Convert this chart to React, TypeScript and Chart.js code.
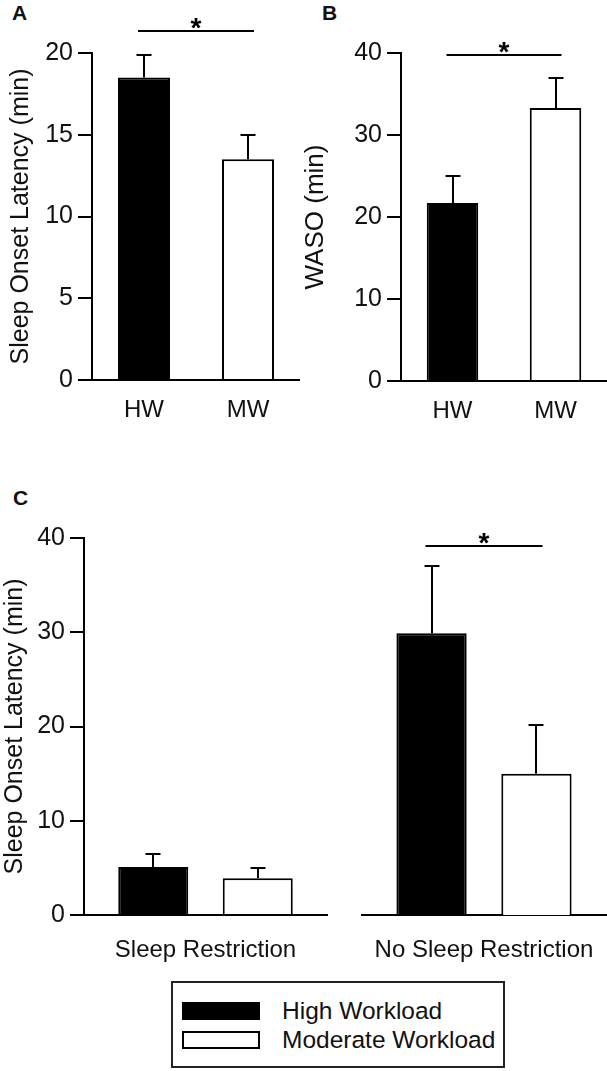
import React, { useEffect, useRef } from 'react';
import { Chart, registerables } from 'chart.js';

Chart.register(...registerables);

const FONT = '"Liberation Sans", Arial, Helvetica, sans-serif';
const INK = '#111';

// ---- Data ----
const workloadLabels = ['HW', 'MW'];
const latencyMeans = [18.5, 13.5];
const latencyErrors = [1.4, 1.5];
const latencyTicks = [0, 5, 10, 15, 20];
const wasoMeans = [21.7, 33.3];
const wasoErrors = [3.3, 3.6];
const wasoTicks = [0, 10, 20, 30, 40];
const restrictionCategories = ['Sleep Restriction', 'No Sleep Restriction'];
const highWorkloadMeans = [5.1, 29.9];
const highWorkloadErrors = [1.4, 7.1];
const moderateWorkloadMeans = [3.9, 15.0];
const moderateWorkloadErrors = [1.1, 5.2];
const restrictionTicks = [0, 10, 20, 30, 40];
const legendLabels = ['High Workload', 'Moderate Workload'];
const barColors = ['#000000', '#ffffff'];
// significance bracket heights (in axis units)
const sigLevels = { A: 21.35, B: 39.8, C: 39.2 };

// ---- Plugins ----
const errorBarPlugin = {
  id: 'errorBars',
  afterDatasetsDraw(chart: any) {
    const ctx = chart.ctx;
    const y = chart.scales.y;
    chart.data.datasets.forEach((ds: any, di: number) => {
      const errs: number[] | undefined = ds.errors;
      if (!errs) return;
      const meta = chart.getDatasetMeta(di);
      meta.data.forEach((el: any, i: number) => {
        const v = ds.data[i] as number;
        const top = Math.round(y.getPixelForValue(v + errs[i]));
        const x = Math.round(el.x);
        ctx.save();
        ctx.strokeStyle = '#000';
        ctx.lineWidth = 2;
        ctx.beginPath();
        ctx.moveTo(x, el.y);
        ctx.lineTo(x, top);
        ctx.moveTo(x - 7.5, top);
        ctx.lineTo(x + 7.5, top);
        ctx.stroke();
        ctx.restore();
      });
    });
  },
};

const sigPlugin = {
  id: 'sigBracket',
  afterDatasetsDraw(chart: any, _args: any, opts: any) {
    if (!opts || opts.level == null) return;
    const ctx = chart.ctx;
    const y = Math.round(chart.scales.y.getPixelForValue(opts.level));
    const a = chart.getDatasetMeta(opts.from[0]).data[opts.from[1]];
    const b = chart.getDatasetMeta(opts.to[0]).data[opts.to[1]];
    const x1 = a.x - 6;
    const x2 = b.x + 6;
    ctx.save();
    ctx.strokeStyle = '#000';
    ctx.lineWidth = 2;
    ctx.beginPath();
    ctx.moveTo(x1, y);
    ctx.lineTo(x2, y);
    ctx.stroke();
    ctx.fillStyle = '#000';
    ctx.font = `bold 28px ${FONT}`;
    ctx.textAlign = 'center';
    ctx.textBaseline = 'alphabetic';
    ctx.fillText('*', (x1 + x2) / 2, y + 6);
    ctx.restore();
  },
};

// ---- Config builders ----
function yScale(opts: {
  max: number;
  ticks: number[];
  title?: string;
  titleSize: number;
  titlePad: number;
  width: number;
  display?: boolean;
}) {
  return {
    display: opts.display !== false,
    min: 0,
    max: opts.max,
    afterBuildTicks: (s: any) => {
      s.ticks = opts.ticks.map((v) => ({ value: v }));
    },
    afterFit: (s: any) => {
      s.width = opts.display === false ? 0 : opts.width;
      s.paddingTop = 0;
      s.paddingBottom = 0;
    },
    border: { display: true, color: '#000', width: 2 },
    grid: {
      display: true,
      drawOnChartArea: false,
      drawTicks: true,
      tickLength: 14,
      color: '#000',
      lineWidth: 2,
    },
    ticks: {
      color: INK,
      padding: 5,
      font: { family: FONT, size: 25 },
    },
    title: {
      display: !!opts.title,
      text: opts.title || '',
      color: INK,
      font: { family: FONT, size: opts.titleSize },
      padding: { top: opts.titlePad, bottom: 0 },
    },
  };
}

function xScale(height: number, pad: number) {
  return {
    afterFit: (s: any) => {
      s.height = height;
      s.paddingLeft = 0;
      s.paddingRight = 0;
    },
    border: { display: true, color: '#000', width: 2 },
    grid: { display: false },
    ticks: {
      color: INK,
      padding: pad,
      maxRotation: 0,
      minRotation: 0,
      autoSkip: false,
      font: { family: FONT, size: 24 },
    },
  };
}

function workloadPanel(p: {
  means: number[];
  errors: number[];
  max: number;
  ticks: number[];
  title: string;
  titleSize: number;
  titlePad: number;
  yWidth: number;
  xHeight: number;
  padTop: number;
  sig: number;
}) {
  return {
    type: 'bar',
    data: {
      labels: workloadLabels,
      datasets: [
        {
          data: p.means,
          errors: p.errors,
          backgroundColor: barColors,
          borderColor: '#000',
          borderWidth: 2,
          categoryPercentage: 1,
          barPercentage: 0.5,
        },
      ],
    },
    options: {
      responsive: false,
      animation: false,
      events: [],
      layout: { padding: { top: p.padTop, left: 0, right: 0, bottom: 0 } },
      plugins: {
        legend: { display: false },
        tooltip: { enabled: false },
        sigBracket: { level: p.sig, from: [0, 0], to: [0, 1] },
      },
      scales: {
        x: xScale(p.xHeight, 8),
        y: yScale({
          max: p.max,
          ticks: p.ticks,
          title: p.title,
          titleSize: p.titleSize,
          titlePad: p.titlePad,
          width: p.yWidth,
        }),
      },
    },
    plugins: [errorBarPlugin, sigPlugin],
  };
}

function restrictionPanel(idx: number, left: boolean) {
  return {
    type: 'bar',
    data: {
      labels: [restrictionCategories[idx]],
      datasets: [
        {
          label: legendLabels[0],
          data: [highWorkloadMeans[idx]],
          errors: [highWorkloadErrors[idx]],
          backgroundColor: barColors[0],
          borderColor: '#000',
          borderWidth: 2,
          categoryPercentage: 0.86,
          barPercentage: 0.67,
        },
        {
          label: legendLabels[1],
          data: [moderateWorkloadMeans[idx]],
          errors: [moderateWorkloadErrors[idx]],
          backgroundColor: barColors[1],
          borderColor: '#000',
          borderWidth: 2,
          categoryPercentage: 0.86,
          barPercentage: 0.67,
        },
      ],
    },
    options: {
      responsive: false,
      animation: false,
      events: [],
      layout: { padding: { top: 58, left: left ? 0 : 22, right: left ? 3 : 1, bottom: 0 } },
      plugins: {
        legend: { display: false },
        tooltip: { enabled: false },
        sigBracket: idx === 1 ? { level: sigLevels.C, from: [0, 0], to: [1, 0] } : {},
      },
      scales: {
        x: xScale(65, 13),
        y: yScale({
          max: 40,
          ticks: restrictionTicks,
          title: left ? 'Sleep Onset Latency (min)' : undefined,
          titleSize: 25,
          titlePad: 0,
          width: 84,
          display: left,
        }),
      },
    },
    plugins: [errorBarPlugin, sigPlugin],
  };
}

function ChartCanvas(props: { left: number; top: number; width: number; height: number; make: () => any }) {
  const ref = useRef<HTMLCanvasElement>(null);
  useEffect(() => {
    const chart = new Chart(ref.current as HTMLCanvasElement, props.make());
    return () => chart.destroy();
  }, []);
  return (
    <canvas
      ref={ref}
      width={props.width}
      height={props.height}
      style={{ position: 'absolute', left: props.left, top: props.top, width: props.width, height: props.height }}
    />
  );
}

const letterStyle: React.CSSProperties = {
  position: 'absolute',
  fontFamily: FONT,
  fontWeight: 'bold',
  fontSize: 21,
  lineHeight: '21px',
  color: INK,
};

export default function App() {
  return (
    <div style={{ position: 'absolute', left: 0, top: 0, width: 607, height: 1071, background: '#fff', overflow: 'hidden' }}>
      <div style={{ ...letterStyle, left: 12, top: 2 }}>A</div>
      <div style={{ ...letterStyle, left: 322, top: 2 }}>B</div>
      <div style={{ ...letterStyle, left: 13, top: 487 }}>C</div>

      <ChartCanvas
        left={0}
        top={0}
        width={300}
        height={430}
        make={() =>
          workloadPanel({
            means: latencyMeans,
            errors: latencyErrors,
            max: 20,
            ticks: latencyTicks,
            title: 'Sleep Onset Latency (min)',
            titleSize: 25,
            titlePad: 6.5,
            yWidth: 92,
            xHeight: 50,
            padTop: 53,
            sig: sigLevels.A,
          })
        }
      />
      <ChartCanvas
        left={300}
        top={0}
        width={307}
        height={431}
        make={() =>
          workloadPanel({
            means: wasoMeans,
            errors: wasoErrors,
            max: 40,
            ticks: wasoTicks,
            title: 'WASO (min)',
            titleSize: 26,
            titlePad: 0,
            yWidth: 101,
            xHeight: 50,
            padTop: 53,
            sig: sigLevels.B,
          })
        }
      />
      <ChartCanvas left={0} top={480} width={330} height={500} make={() => restrictionPanel(0, true)} />
      <ChartCanvas left={340} top={480} width={267} height={500} make={() => restrictionPanel(1, false)} />

      <div
        style={{
          position: 'absolute',
          left: 171,
          top: 981,
          width: 330,
          height: 83,
          border: '2px solid #222',
          fontFamily: FONT,
          fontSize: 24.5,
          color: INK,
        }}
      >
        {legendLabels.map((lab, i) => (
          <React.Fragment key={lab}>
            <div
              style={{
                position: 'absolute',
                left: 9,
                top: 19 + i * 29,
                width: i === 0 ? 78 : 74,
                height: i === 0 ? 18 : 14,
                background: barColors[i],
                border: i === 0 ? 'none' : '2px solid #000',
              }}
            />
            <div
              style={{
                position: 'absolute',
                left: 109,
                top: 14 + i * 29,
                lineHeight: '28px',
                whiteSpace: 'nowrap',
              }}
            >
              {lab}
            </div>
          </React.Fragment>
        ))}
      </div>
    </div>
  );
}
